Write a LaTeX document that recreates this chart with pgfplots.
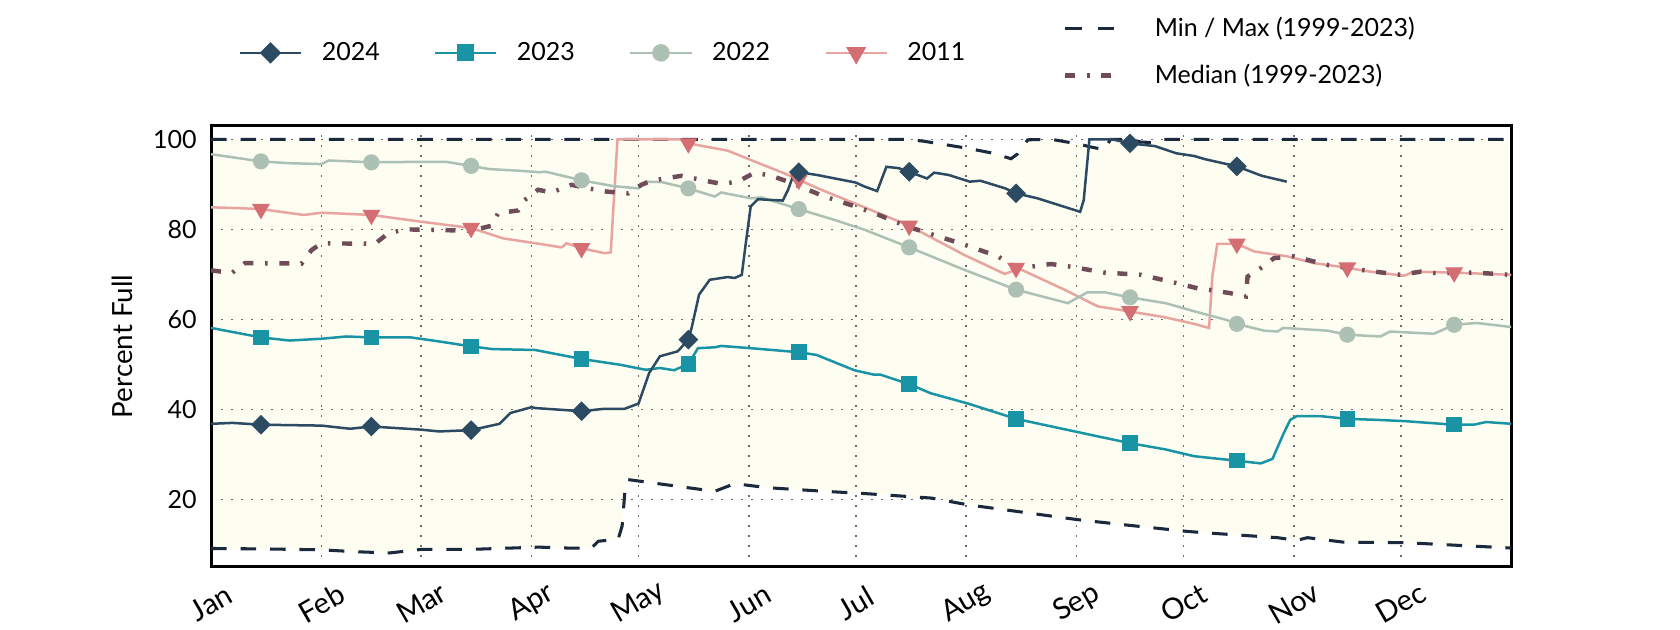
\documentclass[border=0pt]{standalone}
\usepackage{fontspec}
\setmainfont{Lato}
\usepackage{pgfplots}
\pgfplotsset{compat=1.18}
\usepgfplotslibrary{fillbetween}

\definecolor{c2024}{HTML}{2C4A61}
\definecolor{c2023}{HTML}{1894A5}
\definecolor{c2022}{HTML}{ACC0B4}
\definecolor{c2011}{HTML}{E8A4A0}
\definecolor{m2011}{HTML}{D46E73}
\definecolor{cmed}{HTML}{704C58}
\definecolor{cminmax}{HTML}{1B293D}
\definecolor{cband}{HTML}{FDFDF1}

\begin{document}
\fontsize{9}{11}\selectfont
\begin{tikzpicture}

\begin{axis}[
  at={(0,0)}, anchor=south west,
  scale only axis, width=468pt, height=158.8pt,
  set layers,
  xmin=0, xmax=365, ymin=5, ymax=103,
  xtick={0,31,59,90,120,151,181,212,243,273,304,334},
  xticklabels={Jan,Feb,Mar,Apr,May,Jun,Jul,Aug,Sep,Oct,Nov,Dec},
  ytick={20,40,60,80,100},
  major tick length=0pt,
  grid=major,
  major grid style={line width=0.6pt, gray!85!black, dash pattern=on 0.7pt off 2.9pt},
  axis line style={line width=1.1pt, black},
  xticklabel style={yshift=-13pt, rotate=30, anchor=center, font=\fontsize{10.5}{12}\selectfont},
  yticklabel style={xshift=-2pt},
  /pgf/number format/assume math mode=true,
  ylabel={Percent Full},
  ylabel style={at={(axis description cs:-0.068,0.5)}, anchor=center, font=\fontsize{10}{12}\selectfont},
  legend columns=4,
  legend style={at={(axis description cs:0.0208,1.1655)}, anchor=west,
    draw=none, fill=none, inner sep=0pt,
    /tikz/every odd column/.append style={column sep=5pt},
    /tikz/every even column/.append style={column sep=17.5pt}},
  legend image code/.code={\draw[mark repeat=2,mark phase=2,#1] plot coordinates {(0pt,0pt) (11pt,0pt) (22pt,0pt)};},
  fill between/on layer=axis background,
]

\addlegendimage{c2024, line width=0.9pt, mark=square*, mark size=2.3pt, mark options={rotate=45}}
\addlegendentry{2024}
\addlegendimage{c2023, line width=0.9pt, mark=square*, mark size=2.6pt}
\addlegendentry{2023}
\addlegendimage{c2022, line width=0.9pt, mark=*, mark size=2.7pt}
\addlegendentry{2022}
\addlegendimage{c2011, line width=0.9pt, mark=triangle*, mark size=3.3pt, mark options={rotate=180, m2011}}
\addlegendentry{2011}

% min / max band
\addplot[name path=maxp, cminmax, line width=1.1pt, dash pattern=on 5.6pt off 5pt, forget plot] coordinates {
(0,100)(60,100)(120,100)(180,100)(195,100)(200,99.6)(207,98.7)(212.5,98.0)(219,97.0)(224.6,95.7)(226.5,96.8)(229.3,99.9)(236,100)(239.6,99.5)(243.3,99.0)(247,98.3)(250.8,97.7)(252.5,100)(258,100)(261,99.4)(264,99.3)(267,100)(300,100)(365,100)};
\addplot[name path=minp, cminmax, line width=1.1pt, dash pattern=on 5.6pt off 5pt, forget plot] coordinates {
(0,9.1)(15,9.0)(31,8.8)(40,8.4)(50,8.1)(59,8.9)(73,8.9)(92,9.4)(100,9.2)(106.8,9.2)(108.7,10.7)(114.3,11.2)(115.4,14.1)(116.3,22.9)(117.1,24.4)(141.4,21.8)(147,23.5)(156.3,22.6)(172.2,21.8)(183.5,21.3)(202.2,20.3)(212.5,18.8)(225.6,17.4)(243.3,15.5)(258.3,14.2)(274,12.9)(278.8,12.6)(299.4,11.5)(304.8,10.9)(307.8,11.5)(318,10.5)(335,10.4)(365,9.2)};
\addplot[cband, forget plot] fill between[of=maxp and minp];

% 2011
\addplot[c2011, line width=0.9pt, forget plot] coordinates {
(0,84.9)(8,84.7)(14,84.5)(26,83.2)(31,83.7)(45,83.2)(59,81.7)(73,80.3)(82,78.0)(92,76.8)(98.4,76.0)(99.8,76.9)(104,75.8)(110.5,74.7)(112.2,74.9)(114.1,100)(132,100)(134,99.1)(145,97.5)(151.6,95.4)(162,92.1)(165,91.0)(171.3,88.8)(186.2,84.0)(196,80.8)(211.5,74.3)(222.8,70.1)(224.6,70.6)(226.5,71.4)(239.6,66.6)(248.9,62.9)(257.6,61.8)(267.6,60.5)(276,59.0)(280.2,58.1)(281.1,69.5)(282.5,76.8)(288,76.8)(292.8,75.1)(302.2,74.0)(309.6,72.5)(318.7,71.5)(325.5,70.6)(335,69.7)(337.7,70.6)(348.9,70.4)(365,69.9)};

% 2022
\addplot[c2022, line width=0.9pt, forget plot] coordinates {
(0,96.7)(14,95.1)(22,94.7)(31,94.5)(33,95.3)(45,94.9)(59,95.0)(66,95.0)(73,94.1)(78,93.4)(87,93.0)(92,92.7)(94,92.8)(104,90.9)(113,89.6)(120,89.1)(122,90.6)(126.5,90.5)(134,89.1)(141.4,87.3)(143.2,88.2)(151.5,86.9)(154.5,87.1)(165,84.5)(175,82.1)(183.5,79.9)(196,76.0)(211.5,71.0)(226,66.6)(239.6,63.8)(240.5,63.6)(246,66.0)(251,66.0)(258,64.9)(268,63.6)(276,61.8)(285,59.9)(288,59.0)(295.6,57.5)(299.4,57.3)(301,58.1)(313.4,57.5)(319,56.6)(328.3,56.2)(331,57.3)(343.3,56.8)(347,58.1)(349,58.8)(355.4,59.2)(365,58.3)};

% 2023
\addplot[c2023, line width=0.9pt, forget plot] coordinates {
(0,58.1)(14,56.0)(22,55.3)(31,55.7)(38,56.2)(45,56.0)(56,56.0)(64,55.1)(73,54.0)(79,53.4)(91,53.2)(104,51.2)(115,49.9)(122,48.8)(126,49.2)(130,48.7)(134,50.1)(135.3,51.8)(136.7,53.6)(141.4,53.8)(143.2,54.1)(151.5,53.6)(165,52.7)(170,52.1)(180.6,48.7)(186.2,47.7)(188,47.7)(196,45.6)(202,43.6)(212.5,41.3)(226,37.9)(236,36.2)(249,34.0)(258,32.5)(268,31.1)(276,29.6)(288,28.6)(294.7,28.0)(298,29.0)(301.2,34.8)(303,37.7)(304.8,38.5)(311.5,38.5)(319,37.9)(326.5,37.7)(335,37.4)(349,36.6)(354.5,36.6)(358,37.2)(365,36.8)};

% 2024
\addplot[c2024, line width=0.9pt, forget plot] coordinates {
(0,36.8)(6,37.0)(14,36.6)(31,36.4)(39,35.7)(45,36.2)(59,35.5)(64,35.1)(73,35.4)(81,36.8)(84,39.2)(90,40.5)(91,40.3)(104,39.6)(110,40.1)(116,40.1)(120,41.3)(123,48.1)(126,51.8)(131,52.9)(134,55.5)(135,58.4)(137,65.5)(140,68.8)(145,69.4)(147,69.2)(149,69.9)(150,76.2)(151.5,85.1)(153.5,86.7)(158,86.5)(160.5,86.4)(162,88.8)(163.5,92.1)(165,92.7)(170,92.1)(181,90.4)(183.5,89.5)(187,88.5)(189.6,93.9)(193,93.6)(196,92.8)(201,91.3)(203,92.6)(207,92.1)(213,90.6)(216,90.8)(223,89.1)(226,88.0)(232,86.9)(238,85.4)(244,83.9)(245,86.5)(246.6,100)(253,100)(258,99.1)(265,98.5)(271,96.9)(276,96.3)(279,95.6)(288,94.0)(295,91.9)(302,90.6)};

% median
\addplot[cmed, line width=1.6pt, dash pattern=on 3.6pt off 4.2pt on 0.9pt off 4.2pt, forget plot] coordinates {
(0,70.9)(5.8,70.3)(9.5,72.5)(25.4,72.4)(28.2,75.4)(31,76.9)(46,76.8)(49.7,79.1)(54.4,80.0)(73,79.7)(78.7,80.8)(80.6,83.6)(86.2,84.2)(88,86.5)(91.8,88.8)(95.6,88.2)(101.2,89.9)(105.9,89.1)(111,88.4)(117.1,88.0)(120.8,89.9)(123.6,90.8)(132,91.9)(137.6,91.0)(143.2,90.1)(147.9,90.6)(152.6,92.6)(157.3,91.9)(162,90.6)(172.2,87.3)(181.6,84.9)(186.2,83.6)(195.6,80.6)(211.5,76.6)(220.9,74.0)(224.6,72.1)(230.2,71.7)(235.8,72.3)(241.4,71.7)(250.8,70.4)(261.1,69.9)(271.4,68.0)(277,66.9)(281.6,66.4)(286.3,65.8)(290.5,65.1)(291,69.5)(294.7,71.4)(298.4,73.6)(304,74.0)(313.4,72.1)(322.7,71.0)(334,69.9)(339.6,70.6)(343.3,70.3)(354.5,70.4)(365,69.9)};

% markers
\addplot[only marks, c2011, mark=triangle*, mark size=3.3pt, mark options={rotate=180, draw=m2011, fill=m2011}, forget plot] coordinates {
(14,84.5)(45,83.2)(73,80.3)(104,75.8)(134,99.1)(165,91.0)(196,80.8)(226,71.4)(258,61.8)(288,76.8)(319,71.5)(349,70.4)};
\addplot[only marks, c2022, mark=*, mark size=2.7pt, forget plot] coordinates {
(14,95.1)(45,94.9)(73,94.1)(104,90.9)(134,89.1)(165,84.5)(196,76.0)(226,66.6)(258,64.9)(288,59.0)(319,56.6)(349,58.8)};
\addplot[only marks, c2023, mark=square*, mark size=2.6pt, forget plot] coordinates {
(14,56.0)(45,56.0)(73,54.0)(104,51.2)(134,50.1)(165,52.7)(196,45.6)(226,37.9)(258,32.5)(288,28.6)(319,37.9)(349,36.6)};
\addplot[only marks, c2024, mark=square*, mark size=2.3pt, mark options={rotate=45}, forget plot] coordinates {
(14,36.6)(45,36.2)(73,35.4)(104,39.6)(134,55.5)(165,92.7)(196,92.8)(226,88.0)(258,99.1)(288,94.0)};
\end{axis}

\begin{axis}[
  at={(0,0)}, anchor=south west,
  scale only axis, width=468pt, height=158.8pt,
  hide axis, xmin=0, xmax=1, ymin=0, ymax=1,
  legend columns=1,
  legend cell align=left,
  legend style={at={(axis description cs:0.655,1.167)}, anchor=west,
    draw=none, fill=none, inner sep=0pt, row sep=4.5pt,
    /tikz/every odd column/.append style={column sep=12pt}},
  legend image code/.code={\draw[#1] (0pt,0pt) -- (17.4pt,0pt);},
]
\addplot[draw=none, forget plot] coordinates {(0,0)(1,1)};
\addlegendimage{cminmax, line width=1.1pt, dash pattern=on 5.8pt off 5.8pt}
\addlegendentry{Min / Max (1999-2023)}
\addlegendimage{cmed, line width=1.6pt, dash pattern=on 3.6pt off 4.2pt on 0.9pt off 4.2pt}
\addlegendentry{Median (1999-2023)}
\end{axis}

\pgfresetboundingbox
\path[use as bounding box] (-76pt,-22.7pt) rectangle (528.8pt,204.1pt);
\end{tikzpicture}
\end{document}
